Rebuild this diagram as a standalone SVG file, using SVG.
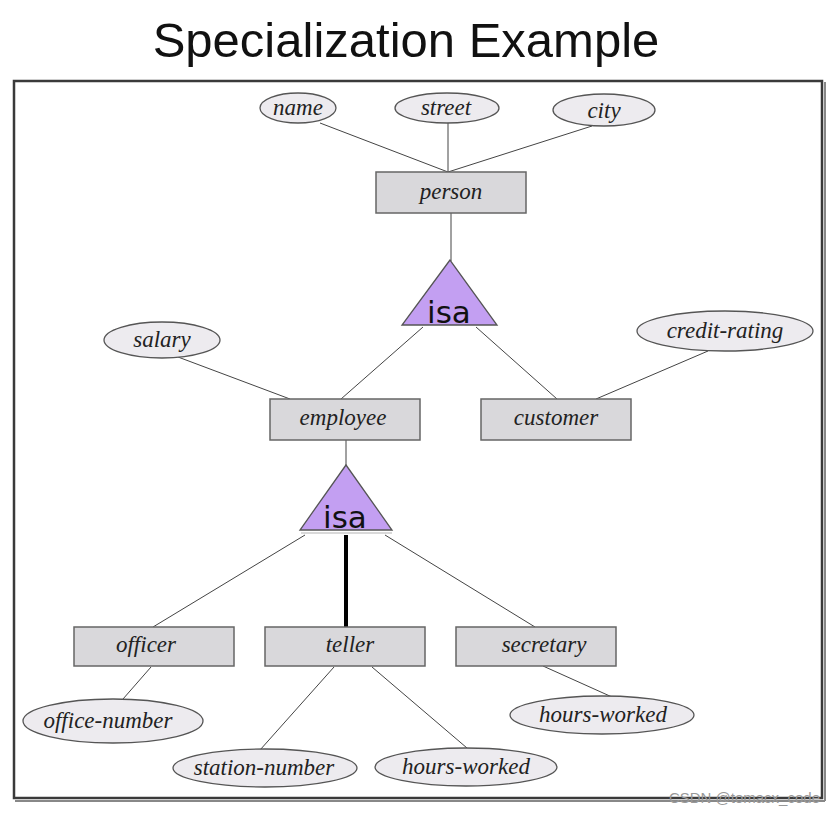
<svg xmlns="http://www.w3.org/2000/svg" width="836" height="814" viewBox="0 0 836 814">
<style>
.t{font-family:"Liberation Serif",serif;font-style:italic;font-size:23px;fill:#222;text-anchor:middle}
.e{fill:#edebef;stroke:#555;stroke-width:1.3}
.r{fill:#d9d8db;stroke:#666;stroke-width:1.5}
.l{stroke:#444;stroke-width:1;fill:none}
.isa{fill:#c39ff2;stroke:#555;stroke-width:1.3}
.it{font-family:"DejaVu Sans",sans-serif;font-size:31px;fill:#111;text-anchor:middle}
</style>
<rect width="836" height="814" fill="#fff"/>
<text x="406" y="57" font-family="Liberation Sans,Arial,sans-serif" font-size="49" text-anchor="middle" fill="#111">Specialization Example</text>
<rect x="14" y="81" width="808" height="717" fill="none" stroke="#3a3a3a" stroke-width="2.5"/>
<line x1="825" y1="82" x2="825" y2="801" stroke="#888" stroke-width="2"/>
<line x1="15" y1="801" x2="825" y2="801" stroke="#888" stroke-width="2"/>
<g id="connectors">
<line class="l" x1="320" y1="123" x2="448" y2="172"/>
<line class="l" x1="448" y1="123" x2="448" y2="172"/>
<line class="l" x1="592" y1="126" x2="448" y2="172"/>
<line class="l" x1="451" y1="213" x2="451" y2="261"/>
<line class="l" x1="423" y1="327" x2="341" y2="399"/>
<line class="l" x1="476" y1="327" x2="557" y2="399"/>
<line class="l" x1="178" y1="357" x2="290" y2="399"/>
<line class="l" x1="708" y1="351" x2="596" y2="399"/>
<line class="l" x1="346" y1="440" x2="346" y2="466"/>
<line x1="301" y1="533" x2="392" y2="533" stroke="#ccc" stroke-width="1.5"/>
<line x1="346" y1="535" x2="346" y2="627" stroke="#000" stroke-width="4"/>
<line class="l" x1="305" y1="535" x2="153" y2="627"/>
<line class="l" x1="385" y1="535" x2="535" y2="627"/>
<line class="l" x1="151" y1="667" x2="123" y2="699"/>
<line class="l" x1="334" y1="667" x2="260" y2="750"/>
<line class="l" x1="372" y1="667" x2="467" y2="748"/>
<line class="l" x1="543" y1="666" x2="612" y2="697"/>
</g>
<g id="name"><ellipse class="e" cx="298" cy="108" rx="38" ry="15"/><text class="t" x="298" y="115">name</text></g>
<g id="street"><ellipse class="e" cx="447" cy="108" rx="52" ry="15"/><text class="t" x="446" y="115">street</text></g>
<g id="city"><ellipse class="e" cx="604" cy="110" rx="51" ry="16"/><text class="t" x="604" y="118">city</text></g>
<g id="person"><rect class="r" x="376" y="172" width="150" height="41"/><text class="t" x="451" y="199">person</text></g>
<g id="isa1"><polygon class="isa" points="450,260 402,325 497,325"/><text class="it" x="449" y="323">isa</text></g>
<g id="salary"><ellipse class="e" cx="162" cy="340" rx="58" ry="18"/><text class="t" x="162" y="347">salary</text></g>
<g id="credit-rating"><ellipse class="e" cx="725" cy="331" rx="88" ry="20"/><text class="t" x="725" y="338">credit-rating</text></g>
<g id="employee"><rect class="r" x="270" y="399" width="150" height="41"/><text class="t" x="343" y="425">employee</text></g>
<g id="customer"><rect class="r" x="481" y="399" width="150" height="41"/><text class="t" x="556" y="425">customer</text></g>
<g id="isa2"><polygon class="isa" points="346,465 300,530 392,530"/><text class="it" x="345" y="528">isa</text></g>
<g id="officer"><rect class="r" x="74" y="627" width="160" height="39"/><text class="t" x="146" y="652">officer</text></g>
<g id="teller"><rect class="r" x="265" y="627" width="160" height="39"/><text class="t" x="350" y="652">teller</text></g>
<g id="secretary"><rect class="r" x="456" y="627" width="160" height="39"/><text class="t" x="544" y="652">secretary</text></g>
<g id="office-number"><ellipse class="e" cx="113" cy="721" rx="90" ry="22"/><text class="t" x="108" y="728">office-number</text></g>
<g id="station-number"><ellipse class="e" cx="265" cy="768" rx="92" ry="19"/><text class="t" x="264" y="775">station-number</text></g>
<g id="hours-worked1"><ellipse class="e" cx="466" cy="767" rx="91" ry="19"/><text class="t" x="466" y="774">hours-worked</text></g>
<g id="hours-worked2"><ellipse class="e" cx="602" cy="715" rx="92" ry="19"/><text class="t" x="603" y="722">hours-worked</text></g>
<text x="820" y="803" font-family="Liberation Sans,Arial,sans-serif" font-size="15" fill="#999" text-anchor="end">CSDN @tomacx_code</text>
</svg>
